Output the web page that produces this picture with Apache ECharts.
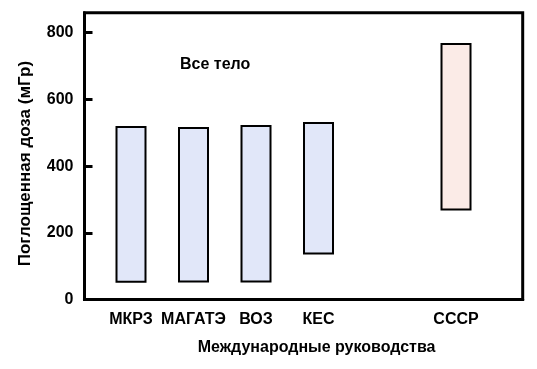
<!DOCTYPE html>
<html lang="ru">
<head>
<meta charset="utf-8">
<script src="https://cdn.jsdelivr.net/npm/echarts@6/dist/echarts.min.js"></script>
<style>
  html, body { margin: 0; padding: 0; background: #fff; }
  #chart { width: 537px; height: 369px; }
</style>
</head>
<body>
<div id="chart"></div>
<script>
// руководства и их положение по оси X (после КЕС пропуск)
var names = ['МКРЗ', 'МАГАТЭ', 'ВОЗ', 'КЕС', 'СССР'];
var positions = [1, 2, 3, 4, 6.2];
// диапазон доз, мГр
var lowDose = [53, 54, 54, 138, 270];
var highDose = [517, 514, 520, 529, 766];
var yTicks = [0, 200, 400, 600, 800];

var fills = ['#e1e7f9', '#e1e7f9', '#e1e7f9', '#e1e7f9', '#fbebe7'];

var rows = names.map(function (n, i) {
    return [positions[i], lowDose[i], highDose[i], i];
});

var font = 'Liberation Sans, Arial, sans-serif';

var chart = echarts.init(document.getElementById('chart'));
chart.setOption({
    animation: false,
    grid: {
        left: 84.5, right: 14.3, top: 12.7, bottom: 69.5,
        show: true, borderColor: '#000', borderWidth: 3
    },
    title: {
        text: 'Все тело',
        left: 175, top: 52,
        textStyle: { fontFamily: font, fontSize: 16, fontWeight: 'bold', color: '#000' }
    },
    xAxis: {
        type: 'value',
        min: 0.256, max: 7.267,
        name: 'Международные руководства',
        nameLocation: 'middle',
        nameGap: 40,
        nameTextStyle: { fontFamily: font, fontSize: 16, fontWeight: 'bold', color: '#000', padding: [0, 0, 0, 26] },
        axisLine: { lineStyle: { color: '#000', width: 3 } },
        axisTick: { show: false },
        splitLine: { show: false },
        axisLabel: {
            customValues: positions,
            margin: 12,
            fontFamily: font, fontSize: 16, fontWeight: 'bold', color: '#000',
            formatter: function (v) {
                var i = positions.indexOf(v);
                return i >= 0 ? names[i] : '';
            }
        }
    },
    yAxis: {
        type: 'value',
        min: 0, max: 860,
        name: 'Поглощенная доза (мГр)',
        nameLocation: 'middle',
        nameGap: 51,
        nameTextStyle: { fontFamily: font, fontSize: 17, fontWeight: 'bold', color: '#000', padding: [0, 15, 0, 0] },
        axisLine: { show: true, lineStyle: { color: '#000', width: 3 } },
        axisTick: { show: true, inside: true, length: 8, customValues: yTicks, lineStyle: { color: '#000', width: 3 } },
        splitLine: { show: false },
        axisLabel: {
            customValues: yTicks,
            margin: 11,
            fontFamily: font, fontSize: 16, fontWeight: 'bold', color: '#000'
        }
    },
    series: [{
        type: 'custom',
        data: rows,
        encode: { x: 0, y: [1, 2] },
        renderItem: function (params, api) {
            var x = api.value(0);
            var lo = api.coord([x, api.value(1)]);
            var hi = api.coord([x, api.value(2)]);
            var w = 29;
            return {
                type: 'rect',
                shape: { x: lo[0] - w / 2, y: hi[1], width: w, height: lo[1] - hi[1] },
                style: { fill: fills[api.value(3)], stroke: '#000', lineWidth: 2 }
            };
        }
    }]
});
</script>
</body>
</html>
